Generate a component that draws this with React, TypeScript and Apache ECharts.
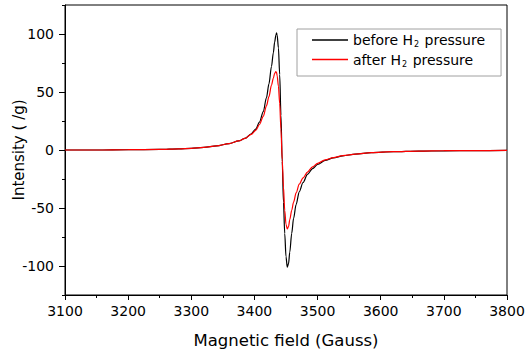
import React, { useEffect, useRef } from "react";
import * as echarts from "echarts";

// Magnetic field (Gauss)
const fields = [
  3100, 3150, 3200, 3250, 3280, 3300, 3320, 3340, 3360, 3375, 3385, 3395, 3402,
  3408, 3414, 3419, 3423, 3427, 3430, 3432, 3434, 3435, 3436, 3438, 3440, 3442,
  3444, 3446, 3448, 3450, 3452, 3454, 3456, 3459, 3462, 3466, 3471, 3477, 3484,
  3492, 3500, 3512, 3525, 3540, 3560, 3585, 3620, 3660, 3700, 3750, 3800,
];

const beforeValues = [
  0, 0, 0.3, 0.5, 1.0, 1.4, 2.2, 3.5, 5.5, 7.8, 10, 14, 18,
  24, 33, 45, 57, 72, 84, 93, 99, 101, 99, 88, 65, 30,
  -10, -45, -72, -92, -101, -98, -88, -72, -59, -47, -36, -28, -21,
  -16, -12.5, -9, -6.8, -5, -3.6, -2.3, -1.5, -1.0, -0.7, -0.5, -0.4,
];

const afterValues = [
  0, 0, 0.3, 0.5, 1.0, 1.4, 2.2, 3.5, 5.5, 7.8, 10, 13.5, 17,
  22, 29, 38, 46, 56, 62, 66, 67.5, 67, 64, 55, 40, 18,
  -8, -32, -52, -64, -68, -66, -60, -52, -45, -37, -29.5, -24, -19,
  -14.5, -11.5, -8.5, -6.5, -4.8, -3.5, -2.2, -1.4, -0.9, -0.6, -0.5, -0.4,
];

const yMajorTicks = [-100, -50, 0, 50, 100];
const seriesNames = ["before H2 pressure", "after H2 pressure"];

const FONT = "DejaVu Sans";

export default function App() {
  const ref = useRef<HTMLDivElement>(null);
  useEffect(() => {
    if (!ref.current) return;
    const chart = echarts.init(ref.current, null, { renderer: "svg" });
    const mk = (vals: number[]) => fields.map((f, i) => [f, vals[i]]);
    chart.setOption({
      animation: false,
      backgroundColor: "#fff",
      grid: {
        left: 65,
        right: 21,
        top: 5,
        bottom: 54,
        containLabel: false,
        outerBoundsMode: "none",
        show: true,
        borderColor: "#000",
        borderWidth: 1,
        backgroundColor: "transparent",
      },
      legend: {
        orient: "vertical",
        left: 297,
        top: 29,
        padding: [4, 16, 8, 15],
        itemGap: 4,
        itemWidth: 36,
        itemHeight: 1.5,
        icon: "rect",
        borderColor: "#a0a0a0",
        borderWidth: 1,
        backgroundColor: "#fff",
        data: seriesNames,
        formatter: (name: string) =>
          name === seriesNames[0]
            ? "{t|before H}{s|2}{t| pressure}"
            : "{t|after H}{s|2}{t| pressure}",
        textStyle: {
          fontFamily: FONT,
          fontSize: 14,
          color: "#000",
          rich: {
            t: { fontFamily: FONT, fontSize: 14, lineHeight: 17, color: "#000" },
            s: {
              fontFamily: FONT,
              fontSize: 8,
              lineHeight: 8,
              color: "#000",
              verticalAlign: "bottom",
              padding: [0, 1, 0, 1],
            },
          },
        },
      },
      xAxis: [
        {
          type: "value",
          min: 3100,
          max: 3800,
          interval: 100,
          name: "Magnetic field (Gauss)",
          nameLocation: "middle",
          nameGap: 37,
          nameMoveOverlap: false,
          nameTextStyle: { fontFamily: FONT, fontSize: 16.5, color: "#000" },
          axisLine: { show: true, onZero: false, lineStyle: { color: "#000", width: 1 } },
          axisTick: { show: true, inside: false, length: 5, lineStyle: { color: "#000", width: 1 } },
          axisLabel: {
            fontFamily: FONT,
            fontSize: 14,
            color: "#000",
            margin: 9,
            alignMinLabel: "center",
            alignMaxLabel: "center",
            formatter: (v: number) => String(v),
          },
          splitLine: { show: false },
        },
        {
          type: "value",
          position: "bottom",
          min: 3100,
          max: 3800,
          interval: 50,
          axisLine: { show: false, onZero: false },
          axisTick: { show: true, inside: false, length: 3, lineStyle: { color: "#000", width: 1 } },
          axisLabel: { show: false },
          splitLine: { show: false },
        },
      ],
      yAxis: [
        {
          type: "value",
          min: -125,
          max: 125,
          interval: 25,
          name: "Intensity ( /g)",
          nameLocation: "middle",
          nameGap: 39,
          nameMoveOverlap: false,
          nameTextStyle: { fontFamily: FONT, fontSize: 15, color: "#000" },
          axisLine: { show: true, onZero: false, lineStyle: { color: "#000", width: 1 } },
          axisTick: { show: true, length: 6, lineStyle: { color: "#000" }, customValues: yMajorTicks },
          axisLabel: {
            fontFamily: FONT,
            fontSize: 14,
            color: "#000",
            margin: 11,
            customValues: yMajorTicks,
            formatter: (v: number) => String(v),
          },
          splitLine: { show: false },
        },
        {
          type: "value",
          position: "left",
          min: -125,
          max: 125,
          interval: 25,
          axisLine: { show: false, onZero: false },
          axisTick: { show: true, length: 3, lineStyle: { color: "#000" } },
          axisLabel: { show: false },
          splitLine: { show: false },
        },
      ],
      series: [
        {
          name: seriesNames[0],
          type: "line",
          data: mk(beforeValues),
          showSymbol: false,
          smooth: 0.3,
          smoothMonotone: "x",
          color: "#000",
          lineStyle: { color: "#000", width: 1.2 },
        },
        {
          name: seriesNames[1],
          type: "line",
          data: mk(afterValues),
          showSymbol: false,
          smooth: 0.3,
          smoothMonotone: "x",
          color: "#ff0000",
          lineStyle: { color: "#ff0000", width: 1.2 },
        },
      ],
    });
    return () => chart.dispose();
  }, []);
  return (
    <div
      ref={ref}
      style={{ position: "fixed", left: 0, top: 0, width: 528, height: 349 }}
    />
  );
}
